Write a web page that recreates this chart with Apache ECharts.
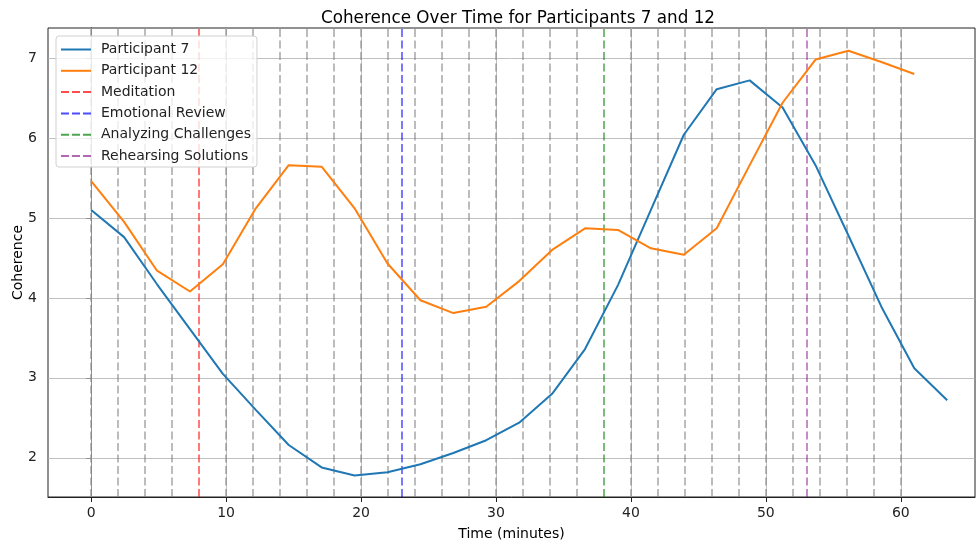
<!DOCTYPE html>
<html>
<head>
<meta charset="utf-8">
<script src="https://cdn.jsdelivr.net/npm/echarts@6/dist/echarts.min.js"></script>
<style>
  html, body { margin: 0; padding: 0; background: #fff; }
  #chart { width: 980px; height: 544px; }
</style>
</head>
<body>
<div id="chart"></div>
<script>
// sample times (minutes)
const time7 = [0, 2.44, 4.88, 7.32, 9.76, 12.2, 14.64, 17.08, 19.52, 21.96, 24.4, 26.84, 29.28, 31.72,
  34.16, 36.6, 39.04, 41.48, 43.92, 46.36, 48.8, 51.24, 53.68, 56.12, 58.56, 61.0, 63.44]
const time12 = [0, 2.44, 4.88, 7.32, 9.76, 12.2, 14.64, 17.08, 19.52, 21.96, 24.4, 26.84, 29.28, 31.72,
  34.16, 36.6, 39.04, 41.48, 43.92, 46.36, 48.8, 51.24, 53.68, 56.12, 58.56, 61.0]

const participant7 = [5.10, 4.76, 4.17, 3.61, 3.05, 2.60, 2.16, 1.88, 1.78, 1.82, 1.92, 2.06, 2.22, 2.44,
  2.80, 3.36, 4.16, 5.10, 6.04, 6.61, 6.72, 6.38, 5.66, 4.78, 3.89, 3.12, 2.72]
const participant12 = [5.46, 4.95, 4.34, 4.08, 4.42, 5.12, 5.66, 5.64, 5.12, 4.43, 3.97, 3.81, 3.89, 4.21,
  4.60, 4.87, 4.85, 4.62, 4.54, 4.87, 5.66, 6.44, 6.98, 7.09, 6.95, 6.80]

// phase markers
const phaseNames = ["Meditation", "Emotional Review", "Analyzing Challenges", "Rehearsing Solutions"]
const phaseTimes = [8, 23, 38, 53]
const phaseColors = ["rgba(255,0,0,0.7)", "rgba(0,0,255,0.7)", "rgba(0,128,0,0.7)", "rgba(128,0,128,0.6)"]

// gray dashed minute markers
const minuteMarks = [0, 2, 4, 6, 10, 12, 14, 16, 18, 20, 22, 24, 26, 28, 30, 32, 34, 36,
  40, 42, 44, 46, 48, 50, 52, 54, 56, 58, 60]

const xTicks = [0, 10, 20, 30, 40, 50, 60]
const yTicks = [2, 3, 4, 5, 6, 7]

const font = "DejaVu Sans"
const solidIcon = "path://M0,0h30v2h-30z"
const dashIcon = "path://M0,0h8v2h-8zM11,0h8v2h-8zM22,0h8v2h-8z"

const myChart = echarts.init(document.getElementById("chart"))

const pairs = (xs, ys) => xs.map((x, i) => [x, ys[i]])

const phaseSeries = phaseNames.map((name, i) => ({
  name: name,
  type: "line",
  data: [],
  symbol: "none",
  color: phaseColors[i],
  lineStyle: { color: phaseColors[i], width: 1.5, type: [8, 3.5] },
  z: 3,
  markLine: {
    silent: true,
    symbol: "none",
    label: { show: false },
    lineStyle: { color: phaseColors[i], width: 1.5, type: [8, 3.5] },
    data: [{ xAxis: phaseTimes[i] }]
  }
}))

const option = {
  animation: false,
  title: {
    text: "Coherence Over Time for Participants 7 and 12",
    left: 316,
    top: 5,
    textStyle: { fontFamily: font, fontSize: 16.8, fontWeight: "normal", color: "#000" }
  },
  legend: {
    left: 56,
    top: 36,
    z: 10,
    orient: "vertical",
    backgroundColor: "rgba(255,255,255,0.8)",
    borderColor: "#d0d0d0",
    borderWidth: 1,
    borderRadius: 3,
    padding: [6.5, 6, 4, 5],
    itemWidth: 30,
    itemHeight: 14,
    itemGap: 7.3,
    textStyle: { fontFamily: font, fontSize: 14, lineHeight: 14, color: "#222", padding: [0, 0, 0, 5] },
    data: [
      { name: "Participant 7", icon: solidIcon },
      { name: "Participant 12", icon: solidIcon }
    ].concat(phaseNames.map(n => ({ name: n, icon: dashIcon })))
  },
  grid: {
    left: 48,
    right: 5,
    top: 28,
    bottom: 47,
    show: true,
    borderColor: "#222",
    borderWidth: 1,
    outerBoundsMode: "none"
  },
  xAxis: {
    type: "value",
    min: -3.2,
    max: 65.5,
    name: "Time (minutes)",
    nameLocation: "middle",
    nameGap: 30,
    nameTextStyle: { fontFamily: font, fontSize: 14, color: "#000" },
    axisLine: { show: true, lineStyle: { color: "#222" } },
    axisTick: { show: true, length: 5, lineStyle: { color: "#222" }, customValues: xTicks },
    axisLabel: { fontFamily: font, fontSize: 14, color: "#222", margin: 9, customValues: xTicks },
    splitLine: { show: false }
  },
  yAxis: {
    type: "value",
    min: 1.51,
    max: 7.375,
    name: "Coherence",
    nameLocation: "middle",
    nameGap: 23,
    nameMoveOverlap: false,
    nameTextStyle: { fontFamily: font, fontSize: 14, color: "#000" },
    axisLine: { show: true, lineStyle: { color: "#222" } },
    axisTick: { show: true, length: 5, lineStyle: { color: "#222" }, customValues: yTicks },
    axisLabel: { fontFamily: font, fontSize: 14, color: "#222", margin: 11, customValues: yTicks },
    splitLine: { show: false }
  },
  series: [
    {
      // grid lines
      name: "grid",
      type: "line",
      data: [],
      z: 1,
      markLine: {
        silent: true,
        symbol: "none",
        label: { show: false },
        lineStyle: { color: "#b0b0b0", width: 0.8, type: "solid" },
        data: xTicks.map(v => ({ xAxis: v })).concat(yTicks.map(v => ({ yAxis: v })))
      }
    },
    {
      name: "minutes",
      type: "line",
      data: [],
      z: 2,
      markLine: {
        silent: true,
        symbol: "none",
        label: { show: false },
        lineStyle: { color: "rgba(128,128,128,0.7)", width: 1.5, type: [8, 3.5] },
        data: minuteMarks.map(v => ({ xAxis: v }))
      }
    },
    {
      name: "Participant 7",
      type: "line",
      data: pairs(time7, participant7),
      symbol: "none",
      color: "#1f77b4",
      lineStyle: { color: "#1f77b4", width: 2 },
      z: 5
    },
    {
      name: "Participant 12",
      type: "line",
      data: pairs(time12, participant12),
      symbol: "none",
      color: "#ff7f0e",
      lineStyle: { color: "#ff7f0e", width: 2 },
      z: 5
    }
  ].concat(phaseSeries)
}

myChart.setOption(option)
window.addEventListener("resize", () => {
  myChart.resize()
})
</script>
</body>
</html>
